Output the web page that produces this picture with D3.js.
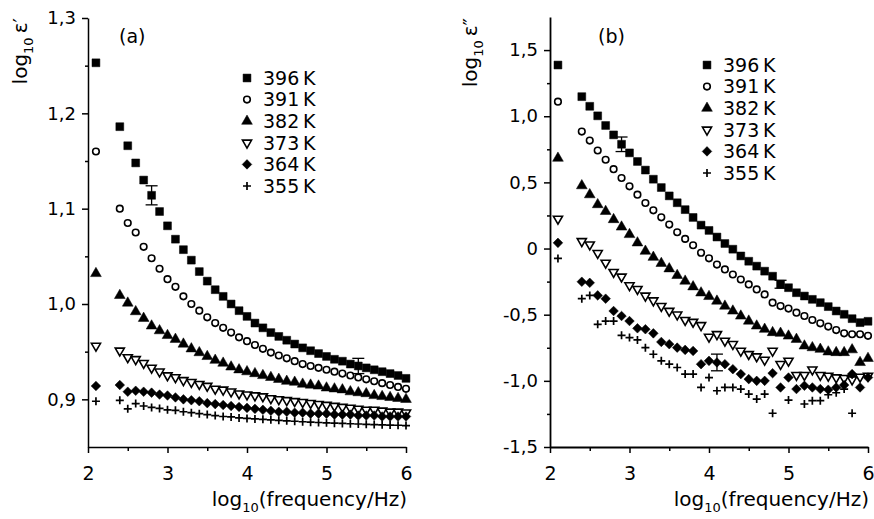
<!DOCTYPE html>
<html>
<head>
<meta charset="utf-8">
<script src="https://cdn.jsdelivr.net/npm/d3@7"></script>
<style>
  body { margin: 0; background: #fff; }
  text { font-family: "DejaVu Sans", sans-serif; fill: #000; }
</style>
</head>
<body>
<svg id="chart" width="874" height="519"></svg>
<script>
// log10(frequency/Hz) of every measured point
const logFreq = [2.1, 2.4, 2.5, 2.6, 2.7, 2.8, 2.9, 3.0, 3.1, 3.2, 3.3, 3.4, 3.5, 3.6, 3.7, 3.8, 3.9, 4.0, 4.1,
  4.2, 4.3, 4.4, 4.5, 4.6, 4.7, 4.8, 4.9, 5.0, 5.1, 5.2, 5.3, 5.4, 5.5, 5.6, 5.7, 5.8, 5.9, 6.0];
const temps = ["396", "391", "382", "373", "364", "355"];
const xTicks = [2, 3, 4, 5, 6];
const aTicks = [0.9, 1.0, 1.1, 1.2, 1.3];
const bTicks = [-1.5, -1.0, -0.5, 0, 0.5, 1.0, 1.5];

// (a) log10 eps'
const a396 = [1.253, 1.186, 1.166, 1.148, 1.130, 1.114, 1.097, 1.082, 1.068, 1.057, 1.046, 1.034, 1.024, 1.015, 1.008, 1.000, 0.993, 0.987, 0.980,
  0.975, 0.970, 0.966, 0.962, 0.958, 0.954, 0.951, 0.948, 0.945, 0.942, 0.940, 0.937, 0.935, 0.933, 0.931, 0.929, 0.927, 0.925, 0.922];
const a391 = [1.160, 1.100, 1.085, 1.075, 1.060, 1.048, 1.037, 1.026, 1.018, 1.008, 1.000, 0.993, 0.986, 0.980, 0.975, 0.970, 0.965, 0.961, 0.957,
  0.953, 0.949, 0.946, 0.943, 0.940, 0.937, 0.935, 0.933, 0.931, 0.929, 0.927, 0.925, 0.923, 0.921, 0.919, 0.917, 0.915, 0.913, 0.911];
const a382 = [1.032, 1.009, 1.001, 0.992, 0.985, 0.977, 0.972, 0.967, 0.963, 0.958, 0.953, 0.949, 0.945, 0.941, 0.938, 0.934, 0.931, 0.929, 0.927,
  0.925, 0.923, 0.921, 0.919, 0.918, 0.916, 0.915, 0.914, 0.912, 0.911, 0.910, 0.908, 0.907, 0.906, 0.904, 0.903, 0.902, 0.901, 0.900];
const a373 = [0.956, 0.951, 0.944, 0.942, 0.938, 0.933, 0.929, 0.925, 0.923, 0.920, 0.918, 0.916, 0.914, 0.911, 0.910, 0.908, 0.906, 0.905, 0.904,
  0.903, 0.901, 0.900, 0.899, 0.898, 0.897, 0.896, 0.895, 0.894, 0.893, 0.892, 0.891, 0.890, 0.889, 0.889, 0.888, 0.887, 0.887, 0.886];
const a364 = [0.914, 0.915, 0.908, 0.909, 0.908, 0.907, 0.905, 0.904, 0.902, 0.900, 0.899, 0.898, 0.896, 0.895, 0.894, 0.893, 0.892, 0.891, 0.890,
  0.889, 0.888, 0.887, 0.887, 0.886, 0.886, 0.885, 0.885, 0.885, 0.884, 0.884, 0.884, 0.883, 0.883, 0.883, 0.882, 0.882, 0.882, 0.882];
const a355 = [0.898, 0.899, 0.890, 0.8955, 0.893, 0.8915, 0.8905, 0.889, 0.8885, 0.887, 0.886, 0.885, 0.884, 0.883, 0.882, 0.8815, 0.8805, 0.880, 0.8795,
  0.879, 0.8785, 0.878, 0.8775, 0.877, 0.8765, 0.876, 0.8757, 0.8754, 0.875, 0.8747, 0.8744, 0.8741, 0.8738, 0.8735, 0.8733, 0.873, 0.8728, 0.8725];

// (b) log10 eps''
const b396 = [1.387, 1.148, 1.075, 1.003, 0.930, 0.859, 0.788, 0.723, 0.658, 0.593, 0.524, 0.461, 0.398, 0.346, 0.294, 0.235, 0.177, 0.137, 0.087,
  0.038, -0.005, -0.056, -0.096, -0.133, -0.171, -0.209, -0.270, -0.296, -0.334, -0.359, -0.384, -0.409, -0.439, -0.472, -0.497, -0.530, -0.560, -0.550];
const b391 = [1.110, 0.884, 0.816, 0.741, 0.671, 0.600, 0.533, 0.470, 0.407, 0.344, 0.289, 0.236, 0.181, 0.123, 0.073, 0.025, -0.032, -0.074, -0.121,
  -0.158, -0.196, -0.234, -0.271, -0.309, -0.347, -0.409, -0.435, -0.454, -0.485, -0.510, -0.540, -0.565, -0.590, -0.616, -0.641, -0.648, -0.648, -0.660];
const b382 = [0.683, 0.475, 0.407, 0.332, 0.281, 0.219, 0.163, 0.106, 0.043, -0.020, -0.066, -0.112, -0.153, -0.203, -0.246, -0.289, -0.335, -0.362, -0.397,
  -0.435, -0.472, -0.510, -0.548, -0.585, -0.610, -0.635, -0.640, -0.661, -0.686, -0.736, -0.749, -0.761, -0.781, -0.786, -0.786, -0.765, -0.861, -0.830];
const b373 = [0.224, 0.055, 0.030, -0.035, -0.108, -0.178, -0.213, -0.279, -0.307, -0.357, -0.393, -0.435, -0.472, -0.500, -0.541, -0.555, -0.580, -0.668, -0.648,
  -0.698, -0.723, -0.774, -0.799, -0.816, -0.842, -0.774, -0.874, -0.849, -0.957, -0.957, -0.915, -0.957, -0.962, -0.975, -0.980, -0.990, -0.970, -0.962];
const b364 = [0.043, -0.251, -0.259, -0.354, -0.379, -0.472, -0.510, -0.548, -0.603, -0.610, -0.641, -0.706, -0.723, -0.749, -0.766, -0.774, -0.874, -0.849, -0.861,
  -0.874, -0.912, -0.949, -0.987, -1.000, -1.000, -0.942, -1.050, -0.975, -1.062, -1.037, -1.050, -1.062, -1.067, -1.050, -1.032, -0.949, -1.050, -0.975];
const b355 = [-0.075, -0.379, -0.354, -0.573, -0.548, -0.548, -0.656, -0.673, -0.691, -0.749, -0.799, -0.849, -0.874, -0.899, -0.949, -0.949, -1.050, -0.975, -1.075,
  -1.050, -1.050, -1.062, -1.100, -1.138, -1.100, -1.245, null, -1.145, null, -1.175, -1.150, -1.150, -1.105, -1.090, -1.062, -1.245, null, null];

// error bars: [series index, log10 f, half height]
const errA = [[0, 2.8, 0.010], [0, 5.4, 0.008]];
const errB = [[0, 2.9, 0.055], [0, 4.9, 0.030], [4, 4.1, 0.063]];

const kinds = ["square", "circle", "tri", "tridown", "diamond", "plus"];

const svg = d3.select("#chart");

function markerPath(kind) {
  if (kind === "square") return d3.symbol(d3.symbolSquare, 62)();
  if (kind === "circle") return d3.symbol(d3.symbolCircle, 34)();
  if (kind === "tri") return d3.symbol(d3.symbolTriangle, 50)();
  if (kind === "tridown") return d3.symbol(d3.symbolTriangle, 36)();
  if (kind === "diamond") return d3.symbol(d3.symbolSquare, 46)();
  return "M-4,0H4M0,-4V4";
}

function styleMarker(sel, kind) {
  const open = kind === "circle" || kind === "tridown";
  sel.attr("d", markerPath(kind))
    .attr("fill", kind === "plus" ? "none" : (open ? "#fff" : "#000"))
    .attr("stroke", "#000")
    .attr("stroke-width", kind === "plus" ? 1.7 : (open ? 1.6 : 0.5));
}

function rot(kind) {
  if (kind === "tridown") return " rotate(180)";
  if (kind === "diamond") return " rotate(45)";
  return "";
}

function drawPanel(opt) {
  const x = d3.scaleLinear().domain([2, 6]).range(opt.xRange);
  const y = d3.scaleLinear().domain(opt.yDomain).range([447, opt.yTop]);
  const g = svg.append("g");

  // minor ticks
  const xMinor = d3.range(2.5, 6, 1);
  g.append("g").attr("transform", "translate(0,447)")
    .call(d3.axisBottom(x).tickValues(xMinor).tickSize(4).tickFormat(""))
    .call(s => s.select(".domain").remove());
  g.append("g").attr("transform", "translate(" + opt.xRange[0] + ",0)")
    .call(d3.axisLeft(y).tickValues(opt.yMinor).tickSize(3).tickFormat(""))
    .call(s => s.select(".domain").remove());

  const xAxis = g.append("g").attr("transform", "translate(0,447)")
    .call(d3.axisBottom(x).tickValues(xTicks).tickSize(6).tickSizeOuter(0).tickPadding(14)
      .tickFormat(d3.format("d")));
  xAxis.selectAll("text").style("font-size", "19px").attr("dy", "0.71em");

  const yAxis = g.append("g").attr("transform", "translate(" + opt.xRange[0] + ",0)")
    .call(d3.axisLeft(y).tickValues(opt.yTicks).tickSize(6).tickSizeOuter(0).tickPadding(6)
      .tickFormat(v => v === 0 ? "0" : d3.format(".1f")(v).replace(".", ",").replace("\u2212", "-")));
  yAxis.selectAll("text").style("font-size", "18px");

  svg.selectAll(".domain, .tick line").attr("stroke", "#000").attr("stroke-width", 1.5);
  g.selectAll(".domain").attr("stroke-width", 1.8);

  // series
  opt.series.forEach((vals, si) => {
    const kind = kinds[si];
    const pts = logFreq.map((f, i) => [f, vals[i]]).filter(d => d[1] != null);
    g.append("g").selectAll("path")
      .data(pts)
      .enter()
        .append("path")
        .attr("transform", d => "translate(" + x(d[0]) + "," + y(d[1]) + ")" + rot(kind))
        .call(styleMarker, kind);
  });

  // error bars
  opt.err.forEach(e => {
    const vals = opt.series[e[0]];
    const v = vals[logFreq.indexOf(e[1])];
    const cx = x(e[1]);
    const eg = g.append("g").attr("stroke", "#000").attr("stroke-width", 1.3);
    eg.append("line").attr("x1", cx).attr("x2", cx).attr("y1", y(v - e[2])).attr("y2", y(v + e[2]));
    [v - e[2], v + e[2]].forEach(t => {
      eg.append("line").attr("x1", cx - 6).attr("x2", cx + 6).attr("y1", y(t)).attr("y2", y(t));
    });
  });

  // panel letter
  g.append("text").attr("x", opt.letterX).attr("y", 43).style("font-size", "19px").text(opt.letter);

  // legend
  const lg = g.append("g");
  temps.forEach((t, i) => {
    const ly = opt.legY + 21.6 * i;
    lg.append("path")
      .attr("transform", "translate(" + opt.legX + "," + ly + ")" + rot(kinds[i]))
      .call(styleMarker, kinds[i]);
    lg.append("text")
      .attr("x", opt.legX + 16).attr("y", ly).attr("dy", "0.36em")
      .style("font-size", "19px")
      .text(t + "\u2009K");
  });

  // axis titles
  const xt = g.append("text")
    .attr("x", opt.xRange[1] + 1).attr("y", 506)
    .attr("text-anchor", "end").style("font-size", "20px");
  xt.append("tspan").text("log");
  xt.append("tspan").attr("dy", 6).style("font-size", "13px").text("10");
  xt.append("tspan").attr("dy", -6).text("(frequency/Hz)");

  const yt = g.append("text")
    .attr("transform", "translate(" + opt.yTitleX + ",18) rotate(-90)")
    .attr("text-anchor", "end").style("font-size", "20px");
  yt.append("tspan").text("log");
  yt.append("tspan").attr("dy", 6).style("font-size", "13px").text("10");
  yt.append("tspan").attr("dy", -6).text("\u2009\u03b5" + opt.prime);
}

drawPanel({
  xRange: [88, 406], yDomain: [0.85, 1.3], yTop: 18,
  yTicks: aTicks, yMinor: [0.95, 1.05, 1.15, 1.25],
  series: [a396, a391, a382, a373, a364, a355], err: errA,
  letter: "(a)", letterX: 119, legX: 247, legY: 78, yTitleX: 27, prime: "\u2032"
});

drawPanel({
  xRange: [550, 868], yDomain: [-1.5, 1.75], yTop: 17,
  yTicks: bTicks, yMinor: [-1.25, -0.75, -0.25, 0.25, 0.75, 1.25],
  series: [b396, b391, b382, b373, b364, b355], err: errB,
  letter: "(b)", letterX: 598, legX: 707, legY: 65, yTitleX: 477, prime: "\u2033"
});
</script>
</body>
</html>
